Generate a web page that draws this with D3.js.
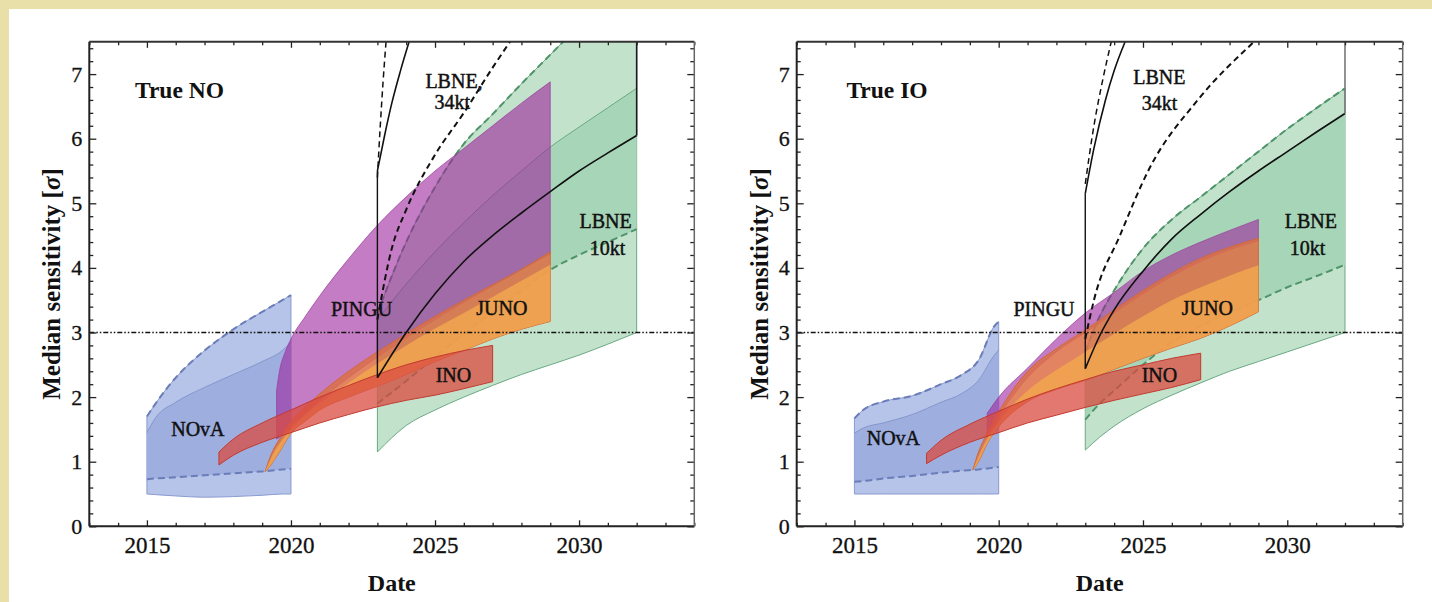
<!DOCTYPE html>
<html><head><meta charset="utf-8">
<script src="https://cdn.jsdelivr.net/npm/d3@7"></script>
<style>
html,body{margin:0;padding:0;background:#fff;}
svg{display:block;font-family:"Liberation Serif","Times New Roman",serif;}
</style></head><body>
<script>
// ===== True NO (normal ordering) =====
const noNovaYears   = [2015, 2015.3, 2016, 2017, 2018, 2019, 2019.7, 2020];
const noNovaFloor   = [0.50, 0.49, 0.47, 0.45, 0.46, 0.48, 0.50, 0.50];
const noNovaLowDash = [0.73, 0.74, 0.76, 0.79, 0.82, 0.85, 0.88, 0.89];
const noNovaMid     = [1.45, 1.68, 1.92, 2.15, 2.35, 2.55, 2.72, 2.85];
const noNovaTop     = [1.70, 1.90, 2.30, 2.72, 3.05, 3.32, 3.50, 3.58];

const noPinguYears  = [2019.5, 2019.6, 2019.8, 2020, 2020.5, 2021, 2022, 2023, 2024, 2025, 2026, 2027, 2028, 2029];
const noPinguLow    = [1.35, 1.38, 1.46, 1.55, 1.75, 1.95, 2.30, 2.62, 2.92, 3.20, 3.47, 3.72, 3.97, 4.22];
const noPinguTop    = [2.10, 2.40, 2.70, 2.90, 3.25, 3.57, 4.14, 4.66, 5.10, 5.50, 5.85, 6.20, 6.55, 6.88];

const noJunoYears   = [2019.1, 2019.3, 2019.6, 2020, 2020.5, 2021, 2022, 2023, 2024, 2025, 2026, 2027, 2028, 2029];
const noJunoLow     = [0.84, 0.95, 1.15, 1.44, 1.63, 1.80, 2.00, 2.17, 2.35, 2.55, 2.72, 2.90, 3.05, 3.17];
const noJunoMid     = [0.84, 1.05, 1.28, 1.50, 1.72, 1.90, 2.22, 2.52, 2.80, 3.06, 3.30, 3.55, 3.80, 4.05];
const noJunoTop     = [0.84, 1.10, 1.35, 1.62, 1.85, 2.05, 2.40, 2.70, 2.98, 3.25, 3.50, 3.74, 3.98, 4.25];

const noInoYears    = [2017.5, 2018, 2019, 2020, 2021, 2022, 2023, 2024, 2025, 2026, 2027];
const noInoLow      = [0.95, 1.10, 1.30, 1.45, 1.60, 1.73, 1.85, 1.95, 2.03, 2.13, 2.24];
const noInoTop      = [1.15, 1.35, 1.60, 1.80, 2.00, 2.18, 2.35, 2.50, 2.62, 2.72, 2.80];

const noLbneYears    = [2023, 2024, 2025, 2026, 2027, 2028, 2029, 2030, 2031, 2032];
const noLbneLow      = [1.15, 1.56, 1.80, 2.00, 2.18, 2.35, 2.50, 2.65, 2.82, 3.00];
const noLbneLowDash  = [1.90, 2.25, 2.62, 2.98, 3.32, 3.65, 3.97, 4.20, 4.40, 4.60];
const noLbneUpSolid  = [3.20, 3.75, 4.25, 4.70, 5.12, 5.50, 5.87, 6.18, 6.48, 6.78];
const noLbneUpDash   = [3.30, 4.40, 5.25, 5.92, 6.38, 6.85, 7.30, 7.75, 8.20, 8.60];
const noLbne10Line   = [2.30, 3.00, 3.60, 4.10, 4.50, 4.85, 5.18, 5.50, 5.78, 6.05];

const no34Years      = [2023, 2023.25, 2023.5, 2023.8, 2024.1];
const no34Solid      = [5.50, 6.05, 6.55, 7.05, 7.50];
const no34SteepYears = [2023, 2023.1, 2023.2, 2023.3];
const no34SteepDash  = [5.40, 6.20, 6.90, 7.50];
const no34DashYears  = [2023, 2023.5, 2024, 2025, 2026, 2027, 2027.6];
const no34Dash       = [3.20, 4.30, 4.90, 5.75, 6.40, 7.10, 7.50];
const no34Start      = [2.30, 5.50];

// ===== True IO (inverted ordering) =====
const ioNovaYears   = [2015, 2015.3, 2016, 2017, 2018, 2018.7, 2019.3, 2019.85, 2020];
const ioNovaFloor   = [0.50, 0.50, 0.50, 0.50, 0.50, 0.50, 0.50, 0.50, 0.50];
const ioNovaLowDash = [0.69, 0.70, 0.74, 0.78, 0.83, 0.86, 0.88, 0.91, 0.92];
const ioNovaMid     = [1.44, 1.52, 1.60, 1.73, 1.92, 2.05, 2.26, 2.65, 2.73];
const ioNovaTop     = [1.67, 1.80, 1.93, 2.02, 2.20, 2.34, 2.57, 3.10, 3.17];

const ioPinguYears  = [2019.6, 2020, 2021, 2022, 2023, 2024, 2025, 2026, 2027, 2028, 2029];
const ioPinguLow    = [1.40, 1.70, 2.30, 2.70, 3.00, 3.30, 3.60, 3.87, 4.10, 4.28, 4.42];
const ioPinguTop    = [1.75, 2.00, 2.45, 2.90, 3.30, 3.62, 3.95, 4.20, 4.40, 4.58, 4.75];

const ioJunoYears   = [2019.1, 2019.3, 2019.6, 2020, 2021, 2022, 2023, 2024, 2025, 2026, 2027, 2028, 2029];
const ioJunoLow     = [0.87, 1.00, 1.28, 1.54, 1.93, 2.12, 2.26, 2.43, 2.60, 2.76, 2.91, 3.10, 3.32];
const ioJunoMid     = [0.87, 1.08, 1.35, 1.62, 2.10, 2.42, 2.70, 2.98, 3.25, 3.50, 3.70, 3.88, 4.04];
const ioJunoTop     = [0.87, 1.15, 1.45, 1.77, 2.40, 2.75, 3.04, 3.35, 3.65, 3.92, 4.15, 4.32, 4.46];

const ioInoYears    = [2017.5, 2018, 2019, 2020, 2021, 2022, 2023, 2024, 2025, 2026, 2027];
const ioInoLow      = [0.97, 1.10, 1.30, 1.45, 1.60, 1.72, 1.84, 1.95, 2.05, 2.15, 2.27];
const ioInoTop      = [1.13, 1.33, 1.58, 1.78, 1.97, 2.13, 2.27, 2.40, 2.50, 2.60, 2.68];

const ioLbneYears    = [2023, 2023.5, 2024, 2025, 2026, 2027, 2028, 2029, 2030, 2031, 2032];
const ioLbneLow      = [1.18, 1.38, 1.55, 1.82, 2.03, 2.22, 2.40, 2.55, 2.70, 2.85, 3.00];
const ioLbneLowDash  = [1.65, 1.90, 2.10, 2.50, 2.85, 3.10, 3.32, 3.50, 3.70, 3.87, 4.05];
const ioLbneUpSolid  = [2.44, 2.95, 3.35, 3.95, 4.45, 4.83, 5.18, 5.50, 5.80, 6.10, 6.39];
const ioLbneUpDash   = [2.70, 3.25, 3.65, 4.30, 4.75, 5.10, 5.45, 5.80, 6.15, 6.47, 6.78];
const ioLbne10Line   = [2.44, 2.95, 3.35, 3.95, 4.45, 4.83, 5.18, 5.50, 5.80, 6.10, 6.39];

const io34Years      = [2023, 2023.3, 2023.7, 2024.0, 2024.38];
const io34Solid      = [5.15, 5.85, 6.60, 7.05, 7.50];
const io34SteepYears = [2023, 2023.3, 2023.6, 2023.9];
const io34SteepDash  = [5.30, 6.20, 6.90, 7.50];
const io34DashYears  = [2023, 2023.3, 2024.2, 2025.2, 2026.9, 2028.8];
const io34Dash       = [2.90, 3.50, 4.50, 5.52, 6.60, 7.48];
const io34Start      = [2.44, 5.15];

// ===== Axes =====
const xMajor = [2015, 2020, 2025, 2030];
const yMajor = [0, 1, 2, 3, 4, 5, 6, 7];
const threshold = 3;

// ---------------------------------------------------------------
const W = 1432, H = 602;
const zip = (xs, ...cols) => xs.map((x, i) => [x, ...cols.map(c => c[i])]);

const svg = d3.select("body").append("svg").attr("width", W).attr("height", H);
svg.append("rect").attr("width", W).attr("height", H).attr("fill", "#fff");
svg.append("rect").attr("x", 0).attr("y", 0).attr("width", W).attr("height", 9).attr("fill", "#e9dfa8");
svg.append("rect").attr("x", 0).attr("y", 0).attr("width", 9).attr("height", H).attr("fill", "#e9dfa8");

const panels = [
  {
    id: "no", left: 89.3, right: 694.3, title: "True NO",
    nova: zip(noNovaYears, noNovaFloor, noNovaLowDash, noNovaMid, noNovaTop),
    pingu: zip(noPinguYears, noPinguLow, noPinguTop),
    juno: zip(noJunoYears, noJunoLow, noJunoMid, noJunoTop),
    ino: zip(noInoYears, noInoLow, noInoTop),
    lbne: zip(noLbneYears, noLbneLow, noLbneLowDash, noLbneUpSolid, noLbneUpDash, noLbne10Line),
    s34: zip(no34Years, no34Solid), d34steep: zip(no34SteepYears, no34SteepDash),
    d34: zip(no34DashYears, no34Dash), start34: no34Start, edgeColor: "#1a1a1a",
    labels: [
      {t: "NOvA", x: 2016.77, y: 1.51}, {t: "PINGU", x: 2022.45, y: 3.36},
      {t: "JUNO", x: 2027.32, y: 3.38}, {t: "INO", x: 2025.64, y: 2.34},
      {t: "LBNE,", x: 2025.66, y: 6.90}, {t: "34kt", x: 2025.6, y: 6.57},
      {t: "LBNE", x: 2030.92, y: 4.72}, {t: "10kt", x: 2030.99, y: 4.31}
    ]
  },
  {
    id: "io", left: 796.7, right: 1402.7, title: "True IO",
    nova: zip(ioNovaYears, ioNovaFloor, ioNovaLowDash, ioNovaMid, ioNovaTop),
    pingu: zip(ioPinguYears, ioPinguLow, ioPinguTop),
    juno: zip(ioJunoYears, ioJunoLow, ioJunoMid, ioJunoTop),
    ino: zip(ioInoYears, ioInoLow, ioInoTop),
    lbne: zip(ioLbneYears, ioLbneLow, ioLbneLowDash, ioLbneUpSolid, ioLbneUpDash, ioLbne10Line),
    s34: zip(io34Years, io34Solid), d34steep: zip(io34SteepYears, io34SteepDash),
    d34: zip(io34DashYears, io34Dash), start34: io34Start, edgeColor: "#777",
    labels: [
      {t: "NOvA", x: 2016.35, y: 1.37}, {t: "PINGU", x: 2021.57, y: 3.36},
      {t: "JUNO", x: 2027.23, y: 3.38}, {t: "INO", x: 2025.57, y: 2.34},
      {t: "LBNE", x: 2025.57, y: 6.95}, {t: "34kt", x: 2025.57, y: 6.55},
      {t: "LBNE", x: 2030.82, y: 4.72}, {t: "10kt", x: 2030.7, y: 4.31}
    ]
  }
];

const TOP = 41.8, BOTTOM = 526.3;

panels.forEach(p => {
  const x = d3.scaleLinear().domain([2013, 2034]).range([p.left, p.right]);
  const y = d3.scaleLinear().domain([0, 7.5]).range([BOTTOM, TOP]);
  const g = svg.append("g");

  g.append("clipPath").attr("id", "clip-" + p.id)
    .append("rect").attr("x", p.left).attr("y", TOP)
    .attr("width", p.right - p.left).attr("height", BOTTOM - TOP);
  const plot = g.append("g").attr("clip-path", `url(#clip-${p.id})`);

  const band = (data, lo, hi) => d3.area()
    .x(d => x(d[0])).y0(d => y(d[lo])).y1(d => y(d[hi]))
    .curve(d3.curveMonotoneX)(data);
  const line = (data, k) => d3.line()
    .x(d => x(d[0])).y(d => y(d[k]))
    .curve(d3.curveMonotoneX)(data);
  const dashed = (data, k, color, w) => plot.append("path").attr("d", line(data, k))
    .attr("fill", "none").attr("stroke", color).attr("stroke-width", w)
    .attr("stroke-dasharray", "7,4");

  // LBNE 10kt bands with their own boundary lines
  plot.append("path").attr("d", band(p.lbne, 1, 4)).attr("fill", "#c2e2cb")
    .attr("stroke", "#6aa983").attr("stroke-width", 1);
  plot.append("path").attr("d", band(p.lbne, 2, 3)).attr("fill", "#a7d5b7");
  dashed(p.lbne, 2, "#4e9468", 2);
  dashed(p.lbne, 4, "#4e9468", 2);
  plot.append("path").attr("d", line(p.lbne, 3)).attr("fill", "none")
    .attr("stroke", "#6aa983").attr("stroke-width", 1);

  // NOvA bands with their own boundary lines
  plot.append("path").attr("d", band(p.nova, 1, 4)).attr("fill", "#b5c4e8")
    .attr("stroke", "#8a9bd0").attr("stroke-width", 1);
  plot.append("path").attr("d", band(p.nova, 2, 3)).attr("fill", "#9daedf");
  dashed(p.nova, 2, "#6b7db8", 2);
  dashed(p.nova, 4, "#6b7db8", 2);
  plot.append("path").attr("d", line(p.nova, 3)).attr("fill", "none")
    .attr("stroke", "#8596cc").attr("stroke-width", 1);

  // PINGU
  plot.append("path").attr("d", band(p.pingu, 1, 2)).attr("fill", "#9d259d")
    .attr("fill-opacity", 0.6).attr("stroke", "#9a3c9c").attr("stroke-opacity", 0.7)
    .attr("stroke-width", 1);

  // JUNO
  plot.append("path").attr("d", band(p.juno, 1, 3)).attr("fill", "#dd6f45")
    .attr("fill-opacity", 0.85).attr("stroke", "#cf6a3c").attr("stroke-width", 1);
  plot.append("path").attr("d", band(p.juno, 1, 2)).attr("fill", "#f2a94e")
    .attr("fill-opacity", 0.8);

  // INO
  plot.append("path").attr("d", band(p.ino, 1, 2)).attr("fill", "#da4b40")
    .attr("fill-opacity", 0.75).attr("stroke", "#c23a30").attr("stroke-width", 1);

  // LBNE 10kt / 34kt black curves
  const last = p.lbne[p.lbne.length - 1];
  plot.append("path").attr("d", line(p.lbne, 5)).attr("fill", "none")
    .attr("stroke", "#111").attr("stroke-width", 1.6);
  plot.append("line").attr("x1", x(last[0])).attr("x2", x(last[0]))
    .attr("y1", y(last[5])).attr("y2", TOP)
    .attr("stroke", p.edgeColor).attr("stroke-width", 1.6);
  plot.append("line").attr("x1", x(2023)).attr("x2", x(2023))
    .attr("y1", y(p.start34[0])).attr("y2", y(p.start34[1]))
    .attr("stroke", "#111").attr("stroke-width", 1.4);
  plot.append("path").attr("d", line(p.s34, 1)).attr("fill", "none")
    .attr("stroke", "#111").attr("stroke-width", 1.6);
  plot.append("path").attr("d", line(p.d34steep, 1)).attr("fill", "none")
    .attr("stroke", "#111").attr("stroke-width", 1.5).attr("stroke-dasharray", "6,4");
  plot.append("path").attr("d", line(p.d34, 1)).attr("fill", "none")
    .attr("stroke", "#111").attr("stroke-width", 2).attr("stroke-dasharray", "6,4");

  // 3 sigma reference
  plot.append("line").attr("x1", x(2013)).attr("x2", x(2034))
    .attr("y1", y(threshold)).attr("y2", y(threshold))
    .attr("stroke", "#111").attr("stroke-width", 1.4)
    .attr("stroke-dasharray", "5,2,1.5,2,1.5,2");

  // Axes
  const xMinor = d3.range(2013, 2035).filter(v => !xMajor.includes(v));
  const yMinor = d3.range(1, 38).map(v => +(v * 0.2).toFixed(1)).filter(v => !Number.isInteger(v));
  const styleAxis = a => { a.select(".domain").remove(); a.selectAll("line").attr("stroke", "#222").attr("stroke-width", 1.3); };

  const bx = g.append("g").attr("transform", `translate(0,${BOTTOM})`)
    .call(d3.axisBottom(x).tickValues(xMajor).tickSize(-6).tickPadding(10).tickFormat(d3.format("d")));
  styleAxis(bx);
  bx.selectAll("text").attr("font-size", 23).attr("fill", "#111")
    .attr("stroke", "#111").attr("stroke-width", 0.3)
    .attr("font-family", "Liberation Serif");
  const bxm = g.append("g").attr("transform", `translate(0,${BOTTOM})`)
    .call(d3.axisBottom(x).tickValues(xMinor).tickSize(-3.5).tickFormat(""));
  styleAxis(bxm);

  const tx = g.append("g").attr("transform", `translate(0,${TOP})`)
    .call(d3.axisTop(x).tickValues(xMajor).tickSize(-6).tickFormat(""));
  styleAxis(tx);
  const txm = g.append("g").attr("transform", `translate(0,${TOP})`)
    .call(d3.axisTop(x).tickValues(xMinor).tickSize(-3.5).tickFormat(""));
  styleAxis(txm);

  const ly = g.append("g").attr("transform", `translate(${p.left},0)`)
    .call(d3.axisLeft(y).tickValues(yMajor).tickSize(-7).tickPadding(7).tickFormat(d3.format("d")));
  styleAxis(ly);
  ly.selectAll("text").attr("font-size", 22).attr("fill", "#111")
    .attr("stroke", "#111").attr("stroke-width", 0.3)
    .attr("font-family", "Liberation Serif");
  const lym = g.append("g").attr("transform", `translate(${p.left},0)`)
    .call(d3.axisLeft(y).tickValues(yMinor).tickSize(-4).tickFormat(""));
  styleAxis(lym);

  const ry = g.append("g").attr("transform", `translate(${p.right},0)`)
    .call(d3.axisRight(y).tickValues(yMajor).tickSize(-7).tickFormat(""));
  styleAxis(ry);
  const rym = g.append("g").attr("transform", `translate(${p.right},0)`)
    .call(d3.axisRight(y).tickValues(yMinor).tickSize(-4).tickFormat(""));
  styleAxis(rym);

  // Frame
  g.append("line").attr("x1", p.left).attr("x2", p.right).attr("y1", BOTTOM).attr("y2", BOTTOM)
    .attr("stroke", "#222").attr("stroke-width", 2);
  g.append("line").attr("x1", p.left).attr("x2", p.left).attr("y1", TOP).attr("y2", BOTTOM)
    .attr("stroke", "#222").attr("stroke-width", 2);
  g.append("line").attr("x1", p.left).attr("x2", p.right).attr("y1", TOP).attr("y2", TOP)
    .attr("stroke", "#333").attr("stroke-width", 2);
  g.append("line").attr("x1", p.right).attr("x2", p.right).attr("y1", TOP).attr("y2", BOTTOM)
    .attr("stroke", "#666").attr("stroke-width", 1.5);

  // Titles
  g.append("text").attr("x", (p.left + p.right) / 2).attr("y", 591)
    .attr("text-anchor", "middle").attr("font-size", 24).attr("font-weight", "bold")
    .attr("fill", "#111").text("Date");
  const yt = g.append("text")
    .attr("transform", `translate(${p.left - 29},${(TOP + BOTTOM) / 2}) rotate(-90)`)
    .attr("text-anchor", "middle").attr("font-size", 25).attr("font-weight", "bold")
    .attr("fill", "#111");
  yt.append("tspan").text("Median sensitivity [");
  yt.append("tspan").attr("font-style", "italic").text("σ");
  yt.append("tspan").text("]");

  g.append("text").attr("x", x(2016.13)).attr("y", y(6.75)).attr("dy", "0.35em")
    .attr("text-anchor", "middle").attr("font-size", 23.5).attr("font-weight", "bold")
    .attr("fill", "#111").text(p.title);

  p.labels.forEach(l => {
    g.append("text").attr("x", x(l.x)).attr("y", y(l.y)).attr("dy", "0.35em")
      .attr("text-anchor", "middle").attr("font-size", 20)
      .attr("fill", "#111").attr("stroke", "#111").attr("stroke-width", 0.45)
      .text(l.t);
  });
});
</script>
</body></html>
